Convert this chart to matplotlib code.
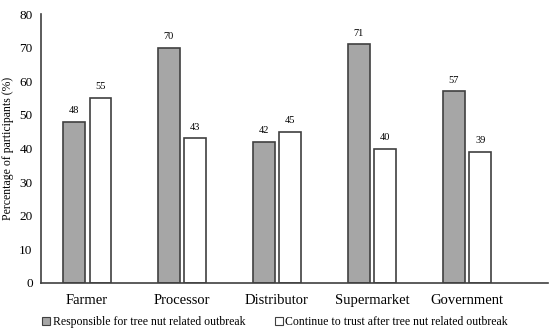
import matplotlib
matplotlib.use("Agg")
import matplotlib.pyplot as plt
import numpy as np
from matplotlib.patches import Patch

categories = ["Farmer", "Processor", "Distributor", "Supermarket", "Government"]
responsible = [48, 70, 42, 71, 57]
trust = [55, 43, 45, 40, 39]
series_names = ["Responsible for tree nut related outbreak",
                "Continue to trust after tree nut related outbreak"]

plt.rcParams['font.family'] = ['Liberation Serif', 'DejaVu Serif']

fig = plt.figure(figsize=(5.5, 3.36), dpi=100)
ax = fig.add_axes([0.0745, 0.158, 0.9215, 0.800])

x = np.arange(len(categories))
w = 0.23
b1 = ax.bar(x - 0.137, responsible, w, color="#a6a6a6", edgecolor="#404040", linewidth=1.2)
b2 = ax.bar(x + 0.142, trust, w, color="white", edgecolor="#404040", linewidth=1.2)

for rect, v in zip(b1, responsible):
    ax.text(rect.get_x() + rect.get_width() / 2, v + 2, str(v), ha="center", va="bottom", fontsize=7.5)
for rect, v in zip(b2, trust):
    ax.text(rect.get_x() + rect.get_width() / 2, v + 2, str(v), ha="center", va="bottom", fontsize=7.5)

ax.set_xlim(-0.484, 4.853)
ax.set_ylim(0, 80)
ax.set_yticks(range(0, 81, 10))
ax.set_xticks(x)
ax.set_xticklabels(categories, fontsize=10.5)
ax.tick_params(axis="both", length=0)
ax.tick_params(axis="y", labelsize=9.5, pad=6)
ax.tick_params(axis="x", pad=8)
ax.set_ylabel("Percentage of participants (%)", fontsize=8.5, labelpad=4)
for s in ["top", "right"]:
    ax.spines[s].set_visible(False)
ax.spines["left"].set_color("#404040")
ax.spines["bottom"].set_color("#404040")
ax.spines["left"].set_linewidth(1.2)
ax.spines["bottom"].set_linewidth(1.2)

handles = [Patch(facecolor="#a6a6a6", edgecolor="#404040", linewidth=0.8),
           Patch(facecolor="white", edgecolor="#404040", linewidth=0.8)]
fig.legend(handles, series_names, loc="center", bbox_to_anchor=(0.5, 0.042), ncol=2,
           frameon=False, fontsize=8.5, handlelength=0.7, handleheight=0.7,
           handletextpad=0.2, columnspacing=2.5)

fig.savefig("out.png", dpi=100)
